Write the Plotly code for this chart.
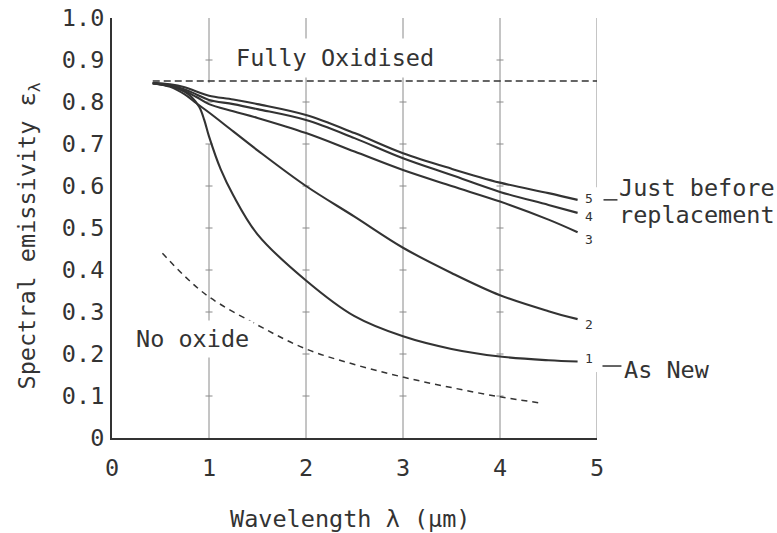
import plotly.graph_objects as go

# ---- data ----
wavelength = [0.42, 0.6, 0.75, 0.87, 1.0, 1.25, 1.5, 2.0, 2.5, 3.0, 3.5, 4.0, 4.5, 4.8]
curve_2 = [0.845, 0.836, 0.818, 0.797, 0.775, 0.730, 0.685, 0.600, 0.527, 0.453, 0.393, 0.340, 0.302, 0.283]
curve_3 = [0.845, 0.838, 0.826, 0.812, 0.795, 0.778, 0.762, 0.726, 0.682, 0.638, 0.600, 0.563, 0.520, 0.490]
curve_4 = [0.845, 0.840, 0.830, 0.818, 0.805, 0.795, 0.783, 0.757, 0.714, 0.666, 0.626, 0.586, 0.555, 0.536]
curve_5 = [0.845, 0.842, 0.835, 0.825, 0.815, 0.806, 0.795, 0.769, 0.726, 0.678, 0.641, 0.608, 0.583, 0.567]

wavelength_1 = [0.42, 0.6, 0.75, 0.82, 0.9, 0.95, 1.0, 1.12, 1.25, 1.5, 2.0, 2.5, 3.0, 3.5, 4.0, 4.5, 4.8]
curve_1 = [0.845, 0.838, 0.824, 0.812, 0.788, 0.758, 0.718, 0.64, 0.578, 0.485, 0.375, 0.290, 0.242, 0.212, 0.194, 0.185, 0.182]
curve_labels = ["1", "2", "3", "4", "5"]

no_oxide_x = [0.52, 0.75, 1.0, 1.5, 2.0, 2.5, 3.0, 3.5, 4.0, 4.43]
no_oxide_y = [0.440, 0.385, 0.336, 0.269, 0.212, 0.175, 0.145, 0.120, 0.098, 0.083]

fully_oxidised_x = [0.42, 5.0]
fully_oxidised_y = [0.85, 0.85]

x_ticks = [0, 1, 2, 3, 4, 5]
x_ticktext = ["0", "1", "2", "3", "4", "5"]
y_ticks = [0, 0.1, 0.2, 0.3, 0.4, 0.5, 0.6, 0.7, 0.8, 0.9, 1.0]
y_ticktext = ["0", "0.1", "0.2", "0.3", "0.4", "0.5", "0.6", "0.7", "0.8", "0.9", "1.0"]

# ---- styling ----
FONT = "DejaVu Sans Mono"
FS = 23.5
INK = "#333333"
GRID = "#8a8a8a"

fig = go.Figure()

# small cross-ticks on the vertical grid lines
gx, gy = [], []
for xv in x_ticks[1:5]:
    for yv in y_ticks[1:10]:
        gx.append(xv)
        gy.append(yv)
fig.add_trace(go.Scatter(x=gx, y=gy, mode="markers",
                         marker=dict(symbol="line-ew", size=5,
                                     line=dict(width=1, color=GRID)),
                         hoverinfo="skip"))

# fully oxidised dashed line
fig.add_trace(go.Scatter(x=fully_oxidised_x, y=fully_oxidised_y, mode="lines",
                         line=dict(color=INK, width=1.6, dash="7px,4px")))

# no oxide dashed curve
fig.add_trace(go.Scatter(x=no_oxide_x, y=no_oxide_y, mode="lines",
                         line=dict(color=INK, width=1.5, dash="6px,5px",
                                   shape="spline", smoothing=1.0)))

curve_x = [wavelength_1, wavelength, wavelength, wavelength, wavelength]
curves = [curve_1, curve_2, curve_3, curve_4, curve_5]
label_yshift = [3, -5, -7, -4, 1]
for xs, ys, lab, ysh in zip(curve_x, curves, curve_labels, label_yshift):
    fig.add_trace(go.Scatter(x=xs, y=ys, mode="lines",
                             line=dict(color=INK, width=2.1,
                                       shape="spline", smoothing=1.0)))
    fig.add_annotation(x=xs[-1], y=ys[-1], text=lab, showarrow=False,
                       xanchor="center", yanchor="middle", xshift=11, yshift=ysh,
                       font=dict(family=FONT, size=13, color=INK))

# vertical grid lines (x=1 and x=5 have gaps as in the reference)
grid_segments = [(1, 0, 0.70), (1, 0.845, 1.0), (2, 0, 1.0), (3, 0, 1.0),
                 (4, 0, 1.0), (5, 0, 0.157), (5, 0.597, 1.0)]
for xv, y0, y1 in grid_segments:
    fig.add_shape(type="line", xref="x", yref="y", x0=xv, x1=xv, y0=y0, y1=y1,
                  line=dict(color=GRID, width=1), layer="below")

# text annotations inside the plot
fig.add_annotation(x=2.30, y=0.905, text="Fully Oxidised", showarrow=False,
                   xanchor="center", yanchor="middle", bgcolor="white", borderpad=5,
                   font=dict(family=FONT, size=FS, color=INK))
fig.add_annotation(x=0.83, y=0.236, text="No oxide", showarrow=False,
                   xanchor="center", yanchor="middle", bgcolor="white", borderpad=4,
                   font=dict(family=FONT, size=FS, color=INK))

# right-hand labels (paper coordinates, outside the axis range)
fig.add_shape(type="line", xref="paper", yref="paper", x0=1.0134, x1=1.0422,
              y0=0.567, y1=0.567, line=dict(color=INK, width=1.5))
fig.add_annotation(xref="paper", yref="paper", x=1.042, y=0.595, text="Just before",
                   showarrow=False, xanchor="left", yanchor="middle",
                   font=dict(family=FONT, size=FS, color=INK))
fig.add_annotation(xref="paper", yref="paper", x=1.042, y=0.531, text="replacement",
                   showarrow=False, xanchor="left", yanchor="middle",
                   font=dict(family=FONT, size=FS, color=INK))
fig.add_shape(type="line", xref="paper", yref="paper", x0=1.0113, x1=1.0504,
              y0=0.1714, y1=0.1714, line=dict(color=INK, width=1.5))
fig.add_annotation(xref="paper", yref="paper", x=1.0525, y=0.162, text="As New",
                   showarrow=False, xanchor="left", yanchor="middle",
                   font=dict(family=FONT, size=FS, color=INK))

# axis titles
fig.add_annotation(xref="paper", yref="paper", x=-0.173, y=0.48,
                   text="Spectral emissivity ε<sub>λ</sub>", textangle=-90,
                   showarrow=False, xanchor="center", yanchor="middle",
                   font=dict(family=FONT, size=FS, color=INK))
fig.add_annotation(xref="paper", yref="paper", x=0.492, y=-0.194,
                   text="Wavelength λ (μm)", showarrow=False,
                   xanchor="center", yanchor="middle",
                   font=dict(family=FONT, size=FS, color=INK))

fig.update_layout(
    width=777, height=533,
    margin=dict(l=112, r=180, t=18, b=95, autoexpand=False),
    plot_bgcolor="white", paper_bgcolor="white",
    showlegend=False,
    font=dict(family=FONT, size=FS, color=INK),
)
fig.update_xaxes(range=[0, 5], tickvals=x_ticks, ticktext=x_ticktext,
                 showgrid=False, zeroline=False, showline=True, automargin=False,
                 linecolor=INK, linewidth=2, ticks="", ticklabelstandoff=8,
                 tickfont=dict(family=FONT, size=FS, color=INK))
fig.update_yaxes(range=[0, 1], tickvals=y_ticks, ticktext=y_ticktext,
                 showgrid=False, zeroline=False, showline=True, automargin=False,
                 linecolor=INK, linewidth=2, ticks="", ticklabelstandoff=1,
                 tickfont=dict(family=FONT, size=FS, color=INK))

fig.write_html("out.html", config={"displayModeBar": False},
               post_script="document.body.style.margin='0';document.body.style.overflow='hidden';")
